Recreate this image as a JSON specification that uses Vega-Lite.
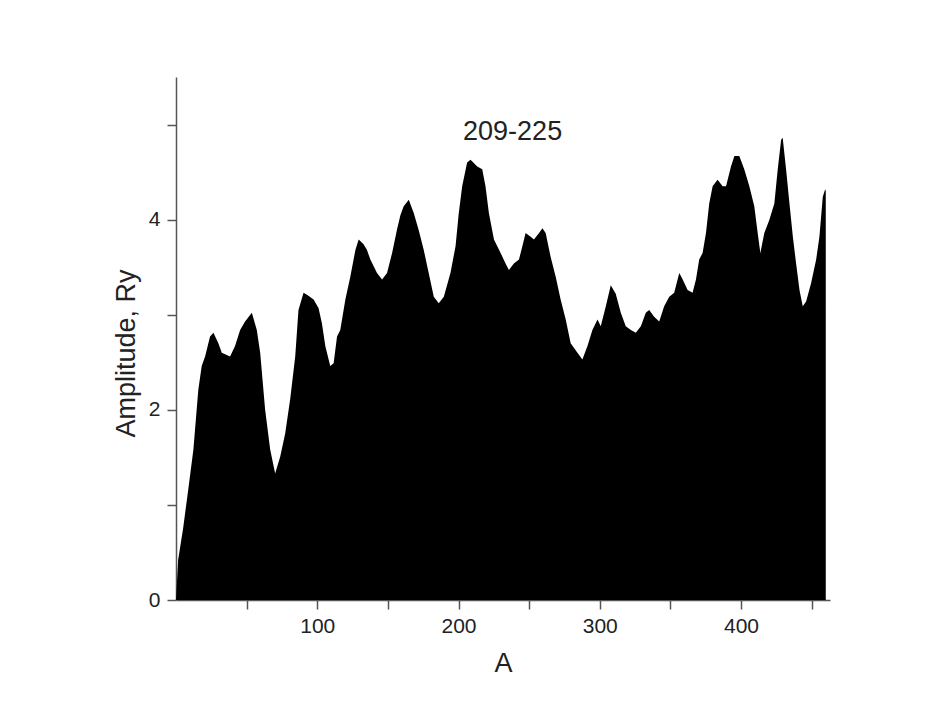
{
  "$schema": "https://vega.github.io/schema/vega-lite/v6.json",
  "autosize": "none",
  "width": 654,
  "height": 523,
  "padding": {"left": 176, "top": 77, "right": 117, "bottom": 119},
  "background": "white",
  "config": {
    "view": {"stroke": null},
    "font": "Liberation Sans",
    "axis": {
      "grid": false,
      "domainColor": "#555555",
      "domainWidth": 1.5,
      "tickColor": "#555555",
      "tickWidth": 1.5,
      "tickSize": 9,
      "labelFont": "Liberation Sans",
      "labelFontSize": 21,
      "labelColor": "#222222",
      "titleFont": "Liberation Sans",
      "titleFontSize": 27,
      "titleFontWeight": "normal",
      "titleColor": "#222222"
    }
  },
  "layer": [
    {
      "data": {
        "values": [
          {"A": 0, "amp": 0.0}, {"A": 1.5, "amp": 0.42}, {"A": 5, "amp": 0.75}, {"A": 9, "amp": 1.2},
          {"A": 12.3, "amp": 1.58}, {"A": 15.8, "amp": 2.21}, {"A": 18.2, "amp": 2.46}, {"A": 20.6, "amp": 2.56},
          {"A": 24.1, "amp": 2.77}, {"A": 26.5, "amp": 2.81}, {"A": 30, "amp": 2.7}, {"A": 32.4, "amp": 2.6},
          {"A": 38.3, "amp": 2.56}, {"A": 41.8, "amp": 2.67}, {"A": 45.4, "amp": 2.84}, {"A": 48.9, "amp": 2.93},
          {"A": 53.7, "amp": 3.02}, {"A": 57.2, "amp": 2.84}, {"A": 59.6, "amp": 2.6}, {"A": 63.1, "amp": 2.0},
          {"A": 66.7, "amp": 1.58}, {"A": 70.2, "amp": 1.33}, {"A": 73.8, "amp": 1.51}, {"A": 77.3, "amp": 1.75},
          {"A": 80.9, "amp": 2.12}, {"A": 84.4, "amp": 2.56}, {"A": 86.7, "amp": 3.05}, {"A": 90.3, "amp": 3.23},
          {"A": 92.7, "amp": 3.21}, {"A": 97.4, "amp": 3.16}, {"A": 100.9, "amp": 3.07}, {"A": 103.3, "amp": 2.91},
          {"A": 105.7, "amp": 2.67}, {"A": 109.2, "amp": 2.46}, {"A": 111.6, "amp": 2.49}, {"A": 114, "amp": 2.77},
          {"A": 116.3, "amp": 2.84}, {"A": 119.9, "amp": 3.16}, {"A": 123.4, "amp": 3.4}, {"A": 127, "amp": 3.68},
          {"A": 129.3, "amp": 3.79}, {"A": 132.8, "amp": 3.74}, {"A": 135.2, "amp": 3.68}, {"A": 137.6, "amp": 3.58},
          {"A": 142.3, "amp": 3.44}, {"A": 145.9, "amp": 3.37}, {"A": 149.4, "amp": 3.44}, {"A": 153, "amp": 3.65},
          {"A": 156.5, "amp": 3.9}, {"A": 158.9, "amp": 4.05}, {"A": 161.2, "amp": 4.14}, {"A": 164.8, "amp": 4.21},
          {"A": 168.3, "amp": 4.07}, {"A": 171.8, "amp": 3.89}, {"A": 175.4, "amp": 3.68}, {"A": 178.9, "amp": 3.44},
          {"A": 182.5, "amp": 3.19}, {"A": 186, "amp": 3.12}, {"A": 189.6, "amp": 3.19}, {"A": 194.3, "amp": 3.44},
          {"A": 197.9, "amp": 3.72}, {"A": 200.2, "amp": 4.07}, {"A": 202.6, "amp": 4.35}, {"A": 206.1, "amp": 4.6},
          {"A": 208.5, "amp": 4.63}, {"A": 213.3, "amp": 4.56}, {"A": 216.8, "amp": 4.53}, {"A": 219.1, "amp": 4.35},
          {"A": 221.5, "amp": 4.07}, {"A": 225.1, "amp": 3.79}, {"A": 229.8, "amp": 3.65}, {"A": 233.3, "amp": 3.54},
          {"A": 235.7, "amp": 3.47}, {"A": 239.2, "amp": 3.54}, {"A": 242.8, "amp": 3.58}, {"A": 245.2, "amp": 3.72},
          {"A": 247.5, "amp": 3.86}, {"A": 251.1, "amp": 3.82}, {"A": 253.4, "amp": 3.79}, {"A": 257, "amp": 3.86},
          {"A": 259.4, "amp": 3.91}, {"A": 261.7, "amp": 3.86}, {"A": 265.2, "amp": 3.61}, {"A": 268.8, "amp": 3.4},
          {"A": 272.3, "amp": 3.16}, {"A": 275.9, "amp": 2.95}, {"A": 279.4, "amp": 2.7}, {"A": 284.2, "amp": 2.6},
          {"A": 287.7, "amp": 2.53}, {"A": 291.3, "amp": 2.67}, {"A": 294.8, "amp": 2.84}, {"A": 298.4, "amp": 2.95},
          {"A": 300.7, "amp": 2.88}, {"A": 304.3, "amp": 3.09}, {"A": 307.8, "amp": 3.31}, {"A": 311.3, "amp": 3.22},
          {"A": 314.9, "amp": 3.02}, {"A": 318.4, "amp": 2.88}, {"A": 322, "amp": 2.84}, {"A": 325.5, "amp": 2.81},
          {"A": 329.1, "amp": 2.88}, {"A": 332.6, "amp": 3.02}, {"A": 335, "amp": 3.05}, {"A": 338.5, "amp": 2.98},
          {"A": 342.1, "amp": 2.93}, {"A": 345.6, "amp": 3.09}, {"A": 349.2, "amp": 3.19}, {"A": 352.7, "amp": 3.23},
          {"A": 356.3, "amp": 3.44}, {"A": 358.7, "amp": 3.37}, {"A": 362.2, "amp": 3.26}, {"A": 365.7, "amp": 3.23},
          {"A": 368.1, "amp": 3.37}, {"A": 370.4, "amp": 3.58}, {"A": 372.8, "amp": 3.65}, {"A": 375.2, "amp": 3.86},
          {"A": 377.5, "amp": 4.17}, {"A": 379.9, "amp": 4.35}, {"A": 383.4, "amp": 4.42}, {"A": 387, "amp": 4.35},
          {"A": 389.4, "amp": 4.35}, {"A": 392.9, "amp": 4.56}, {"A": 395.3, "amp": 4.67}, {"A": 398.8, "amp": 4.67},
          {"A": 402.3, "amp": 4.53}, {"A": 405.9, "amp": 4.35}, {"A": 409.4, "amp": 4.14}, {"A": 411.8, "amp": 3.86},
          {"A": 413.7, "amp": 3.65}, {"A": 416.5, "amp": 3.86}, {"A": 420.1, "amp": 4.0}, {"A": 423.6, "amp": 4.17},
          {"A": 426, "amp": 4.53}, {"A": 428.4, "amp": 4.84}, {"A": 429.5, "amp": 4.86}, {"A": 431.9, "amp": 4.53},
          {"A": 434.3, "amp": 4.17}, {"A": 436.7, "amp": 3.82}, {"A": 439, "amp": 3.54}, {"A": 441.4, "amp": 3.26},
          {"A": 443.7, "amp": 3.09}, {"A": 446.1, "amp": 3.14}, {"A": 449.6, "amp": 3.33}, {"A": 453.2, "amp": 3.58},
          {"A": 455.5, "amp": 3.82}, {"A": 457.9, "amp": 4.24}, {"A": 459.6, "amp": 4.32}, {"A": 460, "amp": 4.3}
        ]
      },
      "mark": {"type": "area", "color": "black", "interpolate": "linear"},
      "encoding": {
        "x": {
          "field": "A", "type": "quantitative",
          "scale": {"domain": [0, 463], "nice": false, "zero": false},
          "axis": {
            "title": "A",
            "values": [50, 100, 150, 200, 250, 300, 350, 400, 450],
            "labelExpr": "datum.value % 100 == 0 ? datum.label : ''",
            "labelPadding": 6,
            "titlePadding": 14
          }
        },
        "y": {
          "field": "amp", "type": "quantitative",
          "scale": {"domain": [0, 5.5], "nice": false},
          "axis": {
            "title": "Amplitude, Ry",
            "values": [0, 1, 2, 3, 4, 5],
            "format": "d",
            "labelExpr": "datum.value % 2 == 0 ? datum.label : ''",
            "labelPadding": 7,
            "titlePadding": 8,
            "titleY": 276
          }
        }
      }
    },
    {
      "data": {"values": [{"A": 238.3, "amp": 4.84, "label": "209-225"}]},
      "mark": {"type": "text", "font": "Liberation Sans", "fontSize": 27, "color": "#222222", "baseline": "alphabetic", "align": "center"},
      "encoding": {
        "x": {"field": "A", "type": "quantitative"},
        "y": {"field": "amp", "type": "quantitative"},
        "text": {"field": "label"}
      }
    }
  ]
}
